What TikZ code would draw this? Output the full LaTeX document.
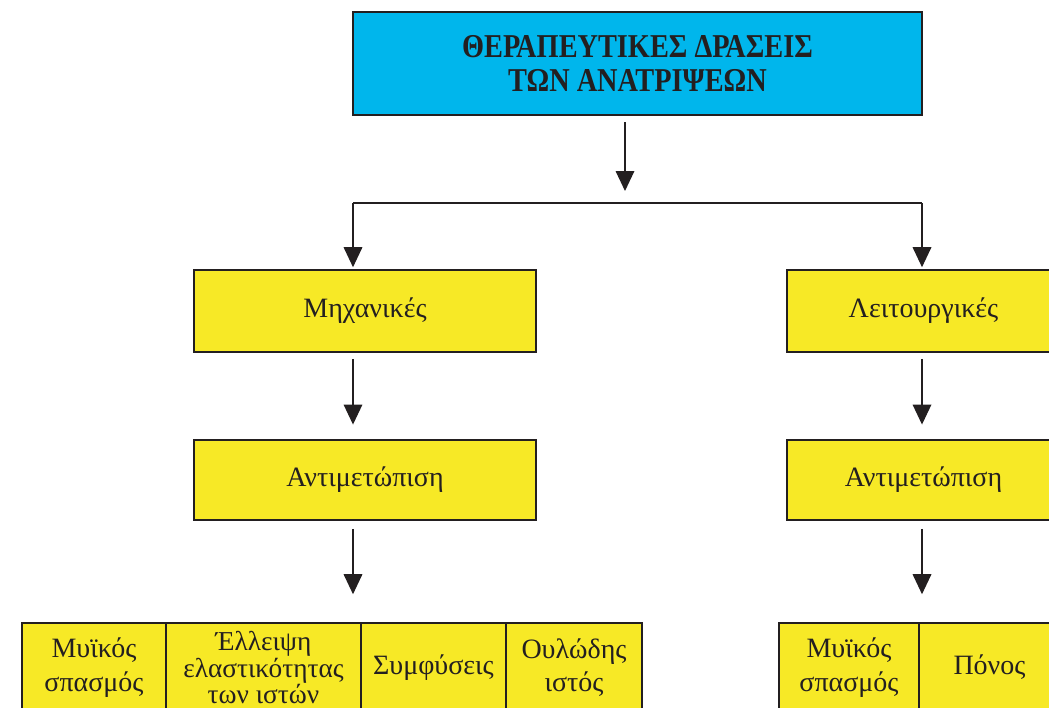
\documentclass[tikz,border=0pt]{standalone}
\usepackage{fontspec}
\setmainfont{Liberation Serif}
\newfontfamily\TitleFace[FakeStretch=0.85]{Liberation Serif}
\usetikzlibrary{arrows.meta,calc,positioning}
\definecolor{boxCyan}{HTML}{00B6EC}
\definecolor{boxYellow}{HTML}{F7E926}
\definecolor{ink}{HTML}{231F20}
\newcommand{\BoxFont}{\fontsize{21}{25}\selectfont}
\newcommand{\TightFont}{\fontsize{20.5}{20}\selectfont}
\newcommand{\TitleFont}{\TitleFace\bfseries\fontsize{25}{25}\selectfont}
\tikzset{
  frame/.style={draw=ink, line width=1.2pt, align=center, inner sep=0pt, text=ink},
  headbox/.style={frame, fill=boxCyan, font=\TitleFont},
  cell/.style={frame, fill=boxYellow, font=\BoxFont},
  flow/.style={draw=ink, line width=0.9pt, -{Triangle[length=15pt,width=14pt]}},
  link/.style={draw=ink, line width=0.9pt},
}

\begin{document}
\begin{tikzpicture}[x=0.75pt,y=-0.75pt]
  \useasboundingbox (0,0) rectangle (1049,707);
  \clip (0,0) rectangle (1049,707);

  % title
  \node[headbox, minimum width=426.75pt, minimum height=77.25pt] (title) at (637.5,63.5)
    {ΘΕΡΑΠΕΥΤΙΚΕΣ ΔΡΑΣΕΙΣ\\ΤΩΝ ΑΝΑΤΡΙΨΕΩΝ};

  % branches
  \node[cell, minimum width=256.5pt, minimum height=61.5pt] (mech) at (365,311) {Μηχανικές};
  \node[cell, minimum width=256.5pt, minimum height=60pt] (mechtreat) at (365,480) {Αντιμετώπιση};
  \node[cell, minimum width=204.75pt, minimum height=61.5pt] (func) at (923.5,311) {Λειτουργικές};
  \node[cell, minimum width=204.75pt, minimum height=60pt] (functreat) at (923.5,480) {Αντιμετώπιση};

  % bottom row, left
  \node[cell, minimum width=108pt, minimum height=66.75pt] (spasmA) at (94,667.5) {Μυϊκός\\σπασμός};
  \node[cell, font=\TightFont, minimum width=146.25pt, minimum height=66.75pt] (elast) at (263.5,667.5) {Έλλειψη\\ελαστικότητας\\των ιστών};
  \node[cell, minimum width=108.75pt, minimum height=66.75pt] (adhes) at (433.5,667.5) {Συμφύσεις};
  \node[cell, minimum width=102pt, minimum height=66.75pt] (scar) at (574,667.5) {Ουλώδης\\ιστός};

  % bottom row, right
  \node[cell, minimum width=105pt, minimum height=66.75pt] (spasmB) at (849,667.5) {Μυϊκός\\σπασμός};
  \node[cell, minimum width=105.75pt, minimum height=66.75pt] (pain) at (989.5,667.5) {Πόνος};

  \coordinate (topfork) at (625,191);
  \coordinate (forkL) at (353,203);
  \coordinate (forkR) at (922,203);

  \draw[flow, shorten <=5pt] (title.south -| topfork) -- (topfork);
  \draw[link] (forkL) -- (forkR);
  \draw[flow, shorten >=1.5pt] (forkL) -- (forkL |- mech.north);
  \draw[flow, shorten >=1.5pt] (forkR) -- (forkR |- func.north);

  \draw[flow, shorten <=4.5pt, shorten >=11pt] (forkL |- mech.south) -- (forkL |- mechtreat.north);
  \draw[flow, shorten <=4.5pt, shorten >=11pt] (forkR |- func.south) -- (forkR |- functreat.north);
  \draw[flow, shorten <=6pt, shorten >=21pt] (forkL |- mechtreat.south) -- (forkL |- elast.north);
  \draw[flow, shorten <=6pt, shorten >=21pt] (forkR |- functreat.south) -- (forkR |- pain.north);
\end{tikzpicture}
\end{document}
